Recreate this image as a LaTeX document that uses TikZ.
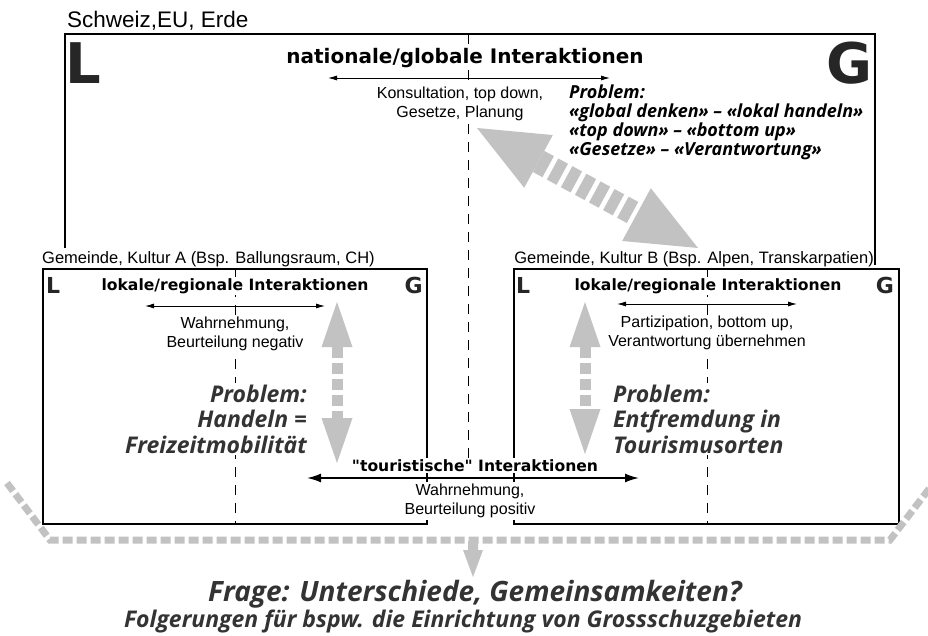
\documentclass[tikz,border=0pt]{standalone}
\usepackage{fontspec}
\setmainfont{Liberation Sans}
\newfontfamily\heavyfont{DejaVu Sans}
\newfontfamily\probfont{Open Sans}
\usetikzlibrary{calc,arrows.meta}
\definecolor{arrowgray}{gray}{0.76}
\definecolor{probgray}{gray}{0.2}
% fat grey double arrow: tip, tip, head length, half head width, shaft width
\newcommand{\fatarrow}[5]{%
  \coordinate (fa1) at ($(#1)!#3!(#2)$);
  \coordinate (fa2) at ($(#2)!#3!(#1)$);
  \fill[arrowgray] (#1) -- ($(fa1)!#4!90:(#1)$) -- ($(fa1)!#4!-90:(#1)$) -- cycle;
  \fill[arrowgray] (#2) -- ($(fa2)!#4!90:(#2)$) -- ($(fa2)!#4!-90:(#2)$) -- cycle;
  \draw[arrowgray, line width=#5, dash pattern=on 11pt off 5pt] (fa1) -- (fa2);
}

\begin{document}
\begin{tikzpicture}[x=1pt, y=-1pt,
  box/.style={line width=1.1pt},
  midline/.style={line width=1pt, dash pattern=on 10pt off 8pt},
  interact/.style={line width=0.9pt, {Latex[length=9pt,width=5pt]}-{Latex[length=9pt,width=5pt]}},
  desc/.style={font=\fontsize{16}{18.5}\selectfont, align=center, fill=white, inner sep=1pt},
  place/.style={font=\fontsize{16.5}{19}\selectfont, inner sep=0pt},
  title/.style={font=\heavyfont\bfseries\fontsize{15.6}{18}\selectfont, fill=white, inner sep=1.5pt},
  bigletter/.style={font=\heavyfont\bfseries\fontsize{56}{56}\selectfont, inner sep=0pt, text=black!85},
  smallletter/.style={font=\heavyfont\bfseries\fontsize{22}{22}\selectfont, inner sep=0pt, text=black!85},
  problem/.style={font=\probfont\bfseries\itshape\fontsize{23}{25.5}\selectfont, text=probgray, fill=white, inner sep=2pt},
  bracket/.style={arrowgray, line width=7pt, dash pattern=on 10pt off 4pt}]
  \useasboundingbox (0,0) rectangle (928,635);
  %%%%% frames %%%%%
  \draw[box] (65,248) -- (65,34) -- (875,34) -- (875,265);
  \draw[box] (43,269) rectangle (427,524);
  \draw[box] (514,269) rectangle (899,524);
  \draw[midline] (468,34) -- (468,460);
  \draw[midline] (235,269) -- (235,524);
  \draw[midline] (707,269) -- (707,524);

  %%%%% global level %%%%%
  \node[place, anchor=base west, font=\fontsize{22.5}{26}\selectfont] (erde) at (67,27.5) {Schweiz,EU, Erde};
  \node[bigletter, anchor=base west] (bigL) at (65,83) {L};
  \node[bigletter, anchor=base east] (bigG) at (873,83) {G};
  \node[title, font=\heavyfont\bfseries\fontsize{20}{24}\selectfont, anchor=base] (nat) at (465,63.5) {nationale/globale Interaktionen};
  \coordinate (natL) at (328,78);
  \coordinate (natR) at (610,78);
  \draw[interact] (natL) -- (natR);
  \node[desc] (kons) at (460,104) {Konsultation, top down,\\Gesetze, Planung};
  \node[font=\probfont\bfseries\itshape\fontsize{18}{19}\selectfont, align=left, anchor=north west, inner sep=0pt] (probG) at (569,85)
    {Problem:\\«global denken» – «lokal handeln»\\«top down» – «bottom up»\\«Gesetze» – «Verantwortung»};
  \coordinate (globtip) at (477,128);
  \coordinate (loktip) at (698,248);
  \fatarrow{globtip}{loktip}{70pt}{30pt}{24pt}

  %%%%% Kultur A %%%%%
  \node[place, anchor=base west] (kulA) at (42,263) {Gemeinde, Kultur A (Bsp. Ballungsraum, CH)};
  \node[smallletter, anchor=base west] (aL) at (46,293) {L};
  \node[smallletter, anchor=base east] (aG) at (423,293) {G};
  \node[title, anchor=base] (lokA) at (235,290.5) {lokale/regionale Interaktionen};
  \coordinate (aArrL) at (145,306);
  \coordinate (aArrR) at (325,306);
  \draw[interact] (aArrL) -- (aArrR);
  \node[desc] (wahrA) at (235,334) {Wahrnehmung,\\Beurteilung negativ};
  \node[problem, align=right, anchor=east] (probA) at (309,419) {Problem:\\Handeln =\\Freizeitmobilität};
  \coordinate (aUp) at (337,302);
  \coordinate (aDown) at (337,463);
  \fatarrow{aUp}{aDown}{45pt}{15.5pt}{11pt}

  %%%%% Kultur B %%%%%
  \node[place, anchor=base east] (kulB) at (874,263) {Gemeinde, Kultur B (Bsp. Alpen, Transkarpatien)};
  \node[smallletter, anchor=base west] (bL) at (516,293) {L};
  \node[smallletter, anchor=base east] (bG) at (894,293) {G};
  \node[title, anchor=base] (lokB) at (708,290.5) {lokale/regionale Interaktionen};
  \coordinate (bArrL) at (617,304);
  \coordinate (bArrR) at (797,304);
  \draw[interact] (bArrL) -- (bArrR);
  \node[desc] (partB) at (707,333) {Partizipation, bottom up,\\Verantwortung übernehmen};
  \node[problem, align=left, anchor=west] (probB) at (611,419) {Problem:\\Entfremdung in\\Tourismusorten};
  \coordinate (bUp) at (585,302);
  \coordinate (bDown) at (585,454);
  \fatarrow{bUp}{bDown}{45pt}{15.5pt}{11pt}

  %%%%% touristic link %%%%%
  \node[title, anchor=base] (tour) at (475,471) {"touristische" Interaktionen};
  \coordinate (tourL) at (307,478);
  \coordinate (tourR) at (639,478);
  \draw[line width=1.8pt, {Latex[length=14pt,width=9pt]}-{Latex[length=14pt,width=9pt]}] (tourL) -- (tourR);
  \node[desc, inner sep=2pt] (wahrT) at (470,501) {Wahrnehmung,\\Beurteilung positiv};

  %%%%% question %%%%%
  \coordinate (brA) at (7,483);
  \coordinate (brB) at (50,540);
  \coordinate (brC) at (890,540);
  \coordinate (brD) at (932,485);
  \draw[bracket] (brA) -- (brB) -- (brC) -- (brD);
  \fill[arrowgray] (468,541) -- (478,541) -- (478,550) -- (483,550) -- (473,577) -- (463,550) -- (468,550) -- cycle;
  \node[font=\probfont\bfseries\itshape\fontsize{28}{32}\selectfont, text=probgray] (frage) at (475,594) {Frage: Unterschiede, Gemeinsamkeiten?};
  \node[font=\probfont\bfseries\itshape\fontsize{23}{27}\selectfont, text=probgray] (folg) at (463,621) {Folgerungen für bspw. die Einrichtung von Grossschuzgebieten};
\end{tikzpicture}
\end{document}
